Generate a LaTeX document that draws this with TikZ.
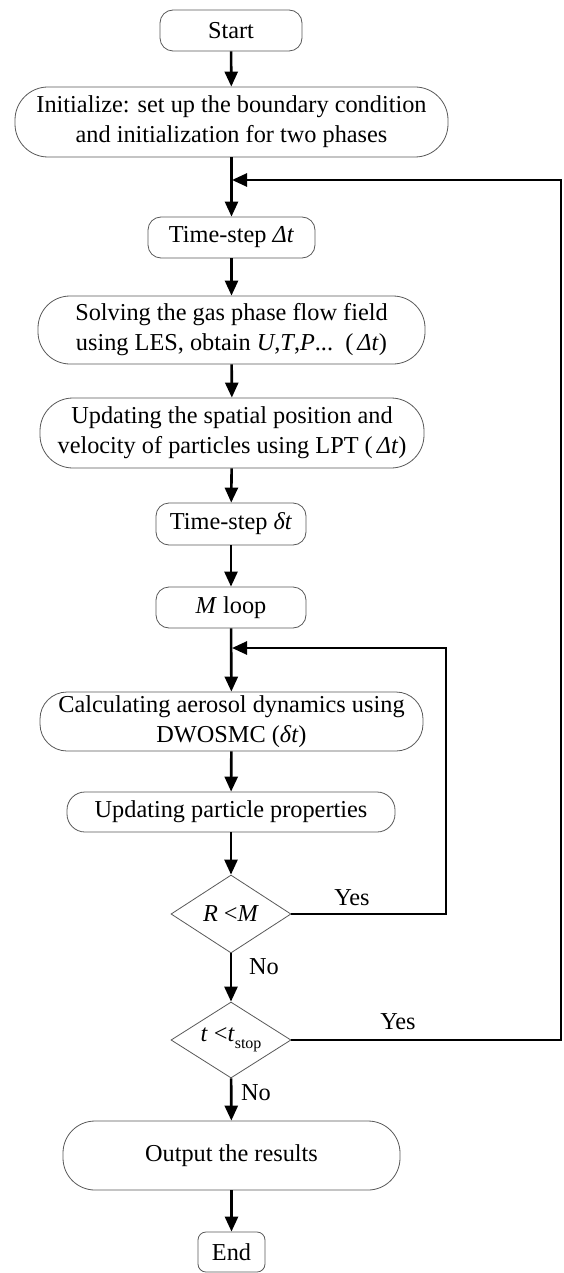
\documentclass[tikz,border=0pt]{standalone}
\usepackage{fontspec}
\setmainfont{Liberation Serif}
\usetikzlibrary{arrows.meta,shapes.geometric}
\tikzset{
  box/.style={draw=black!65, line width=0.8pt, fill=white, inner sep=0pt, align=center,
    font=\fontsize{24.3}{30}\selectfont},
  dia/.style={draw=black!65, line width=0.8pt, fill=white, shape=diamond, inner sep=0pt,
    minimum width=120pt, minimum height=78pt, aspect=1.54, font=\fontsize{24.3}{28}\selectfont},
  conn/.style={line width=2.6pt, black},
  arr/.style={conn, -{Triangle[length=15pt,width=13pt]}},
  lbl/.style={font=\fontsize{24.3}{28}\selectfont, inner sep=0pt}
}
\begin{document}
\begin{tikzpicture}[x=1pt,y=-1pt]
\useasboundingbox[fill=white] (0,0) rectangle (563,1273);

\node[box, minimum width=142pt, minimum height=41pt, rounded corners=13pt] (start) at (231,30.5) {Start};
\node[box, minimum width=433pt, minimum height=70pt, rounded corners=33pt] (init) at (231.5,122)
  {Initialize: set up the boundary condition\\and initialization for two phases};
\node[box, minimum width=167pt, minimum height=41pt, rounded corners=13pt] (ts1) at (231.5,237.5)
  {Time-step \textit{Δt}};
\node[box, minimum width=387pt, minimum height=68pt, rounded corners=32pt] (solve) at (231.5,330)
  {Solving the gas phase flow field\\using LES, obtain \textit{U},\textit{T},\textit{P}...~~(\,\textit{Δt})};
\node[box, minimum width=384pt, minimum height=70pt, rounded corners=33pt] (upd) at (232,433)
  {Updating the spatial position and\\velocity of particles using LPT (\,\textit{Δt})};
\node[box, minimum width=150pt, minimum height=42pt, rounded corners=13pt] (ts2) at (231,524)
  {Time-step \textit{δt}};
\node[box, minimum width=150pt, minimum height=41pt, rounded corners=13pt] (mloop) at (231,607.5)
  {\textit{M} loop};
\node[box, minimum width=383pt, minimum height=59pt, rounded corners=27pt] (calc) at (231.5,721.5)
  {Calculating aerosol dynamics using\\DWOSMC (\textit{δt})};
\node[box, minimum width=328pt, minimum height=40pt, rounded corners=18pt] (upp) at (231,812)
  {Updating particle properties};
\node[dia] (d1) at (231,914) {\textit{R} <\textit{M}};
\node[dia, minimum height=76pt] (d2) at (231,1040) {\textit{t} <\textit{t}\raisebox{-0.3em}{\fontsize{16}{16}\selectfont stop}};
\node[box, minimum width=337pt, minimum height=69pt, rounded corners=32pt] (out) at (231.5,1155.5)
  {Output the results};
\node[box, minimum width=67pt, minimum height=40pt, rounded corners=8pt] (endn) at (231.5,1252)
  {End};

\coordinate (j1) at (232,180);
\coordinate (r1) at (561,180);
\coordinate (j2) at (232,648);
\coordinate (r2) at (446,648);

\draw[arr] (start) -- (init);
\draw[arr] (init) -- (ts1);
\draw[arr] (ts1) -- (solve);
\draw[arr] (solve) -- (upd);
\draw[arr] (upd) -- (ts2);
\draw[arr] (ts2) -- (mloop);
\draw[arr] (mloop) -- (calc);
\draw[arr] (calc) -- (upp);
\draw[arr] (upp) -- (d1);
\draw[arr] (d1) -- (d2);
\draw[arr] (d2) -- (out);
\draw[arr] (out) -- (endn);

\draw[arr] (d1.east) -| (r2) -- (j2);
\draw[arr] (d2.east) -| (r1) -- (j1);

\node[lbl] (y1) at (352,898) {Yes};
\node[lbl] (y2) at (398,1022) {Yes};
\node[lbl] (n1) at (264,967) {No};
\node[lbl] (n2) at (256,1093) {No};
\end{tikzpicture}
\end{document}
